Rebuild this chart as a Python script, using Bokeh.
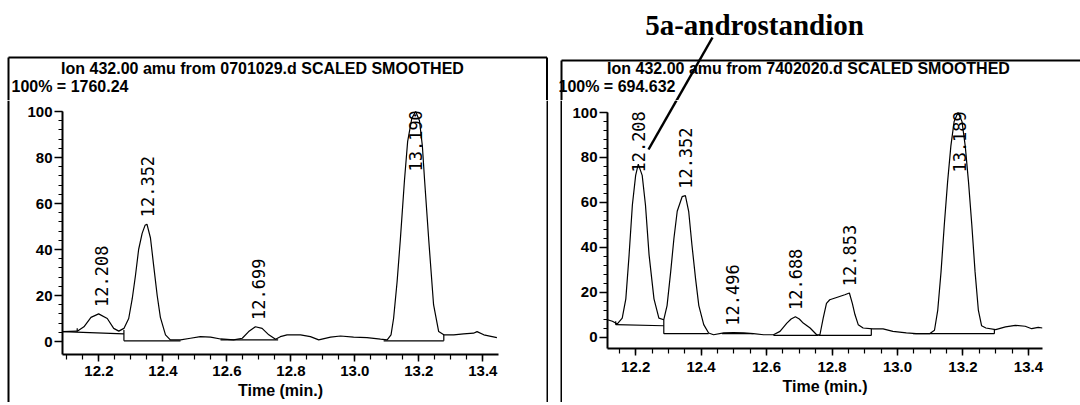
import math
from bokeh.plotting import figure
from bokeh.models import (Range1d, FixedTicker, LabelSet, ColumnDataSource,
                          CustomJSTickFormatter)
from bokeh.layouts import row, column
from bokeh.embed import file_html
from bokeh.resources import INLINE
from bokeh.core.properties import value

# ------------------------------------------------------------------ data
LEFT_TITLE = "Ion 432.00 amu from 0701029.d SCALED SMOOTHED"
LEFT_SCALE = "100% = 1760.24"
RIGHT_TITLE = "Ion 432.00 amu from 7402020.d SCALED SMOOTHED"
RIGHT_SCALE = "100% = 694.632"
ANNOTATION = "5a-androstandion"
X_LABEL = "Time (min.)"
X_TICKS = [12.2, 12.4, 12.6, 12.8, 13.0, 13.2, 13.4]
Y_TICKS = [0, 20, 40, 60, 80, 100]

LEFT_T = [12.086, 12.132, 12.153, 12.175, 12.199, 12.226, 12.246, 12.262, 12.278, 12.293,
          12.304, 12.314, 12.324, 12.335, 12.344, 12.350, 12.361, 12.371, 12.382, 12.392,
          12.408, 12.423, 12.455, 12.486, 12.517, 12.549, 12.580, 12.621, 12.648, 12.668,
          12.689, 12.710, 12.731, 12.752, 12.767, 12.788, 12.830, 12.861, 12.887, 12.924,
          12.955, 12.996, 13.038, 13.080, 13.101, 13.113, 13.121, 13.132, 13.142, 13.155,
          13.165, 13.178, 13.190, 13.202, 13.211, 13.218, 13.231, 13.246, 13.262, 13.278,
          13.309, 13.340, 13.371, 13.382, 13.403, 13.444]
LEFT_Y = [4.3, 4.5, 6.4, 10.5, 12.0, 10.0, 5.7, 4.5, 5.7, 10.0,
          18.6, 28.6, 40.0, 47.0, 50.5, 51.0, 45.0, 33.0, 20.0, 10.5,
          2.9, 0.7, 0.7, 1.4, 2.1, 1.9, 1.1, 0.7, 1.4, 4.3,
          6.4, 5.7, 2.9, 1.0, 2.1, 2.9, 2.9, 2.1, 0.7, 1.9,
          2.4, 1.9, 1.7, 1.0, 0.7, 2.9, 10.0, 26.0, 44.0, 70.0,
          87.0, 97.0, 100.0, 96.0, 85.0, 70.0, 44.0, 16.0, 4.3, 2.9,
          2.9, 3.3, 3.6, 4.3, 2.9, 1.7]
LEFT_PEAK_T = [12.208, 12.352, 12.699, 13.190]
LEFT_PEAK_H = [12.0, 51.0, 6.4, 100.0]
LEFT_BASE_X0 = [12.086, 12.278, 12.278, 12.580, 13.090, 13.278, 12.132]
LEFT_BASE_Y0 = [4.3, 0.3, 0.3, 0.7, 0.3, 0.3, 4.3]
LEFT_BASE_X1 = [12.278, 12.278, 12.455, 12.760, 13.278, 13.278, 12.132]
LEFT_BASE_Y1 = [3.3, 5.0, 0.3, 0.7, 0.3, 2.9, 5.8]

RIGHT_T = [12.114, 12.129, 12.144, 12.159, 12.170, 12.180, 12.190, 12.200, 12.208, 12.220,
           12.230, 12.241, 12.256, 12.271, 12.286, 12.296, 12.307, 12.317, 12.327, 12.342,
           12.352, 12.362, 12.372, 12.383, 12.393, 12.408, 12.423, 12.438, 12.469, 12.499,
           12.530, 12.560, 12.591, 12.621, 12.641, 12.662, 12.675, 12.688, 12.700, 12.712,
           12.733, 12.753, 12.763, 12.773, 12.783, 12.793, 12.814, 12.839, 12.853, 12.862,
           12.870, 12.880, 12.895, 12.925, 12.956, 12.986, 13.027, 13.057, 13.098, 13.113,
           13.123, 13.133, 13.143, 13.153, 13.163, 13.173, 13.185, 13.197, 13.207, 13.217,
           13.227, 13.237, 13.247, 13.257, 13.270, 13.300, 13.330, 13.360, 13.390, 13.410,
           13.430, 13.443]
RIGHT_Y = [7.7, 7.0, 5.8, 8.4, 17.0, 36.6, 58.8, 72.0, 77.0, 72.0,
           58.8, 36.6, 17.0, 8.4, 7.7, 14.0, 29.0, 44.0, 56.0, 62.5,
           63.0, 56.0, 41.0, 26.0, 14.0, 5.5, 1.8, 1.0, 1.8, 2.0,
           1.8, 1.5, 1.0, 1.0, 2.5, 6.2, 8.0, 9.0, 8.0, 6.2,
           4.0, 1.0, 1.0, 8.4, 15.0, 16.6, 17.6, 18.8, 19.6, 15.0,
           10.0, 5.5, 4.0, 3.6, 3.6, 2.5, 1.8, 1.5, 1.5, 3.0,
           12.0, 29.0, 50.0, 69.0, 85.0, 96.0, 100.0, 96.0, 85.0, 69.0,
           50.0, 29.0, 12.0, 5.0, 4.0, 3.3, 4.5, 5.2, 4.8, 3.7,
           4.3, 4.0]
RIGHT_PEAK_T = [12.208, 12.352, 12.496, 12.688, 12.853, 13.189]
RIGHT_PEAK_H = [77.0, 63.0, 2.0, 9.0, 19.6, 100.0]
RIGHT_BASE_X0 = [12.139, 12.286, 12.286, 12.464, 12.621, 12.758, 12.920, 13.047, 13.296, 12.139]
RIGHT_BASE_Y0 = [5.5, 1.5, 1.5, 1.5, 0.7, 0.7, 0.7, 1.5, 1.5, 5.5]
RIGHT_BASE_X1 = [12.286, 12.286, 12.423, 12.560, 12.758, 12.920, 12.920, 13.296, 13.296, 12.139]
RIGHT_BASE_Y1 = [5.0, 7.7, 1.5, 1.5, 0.7, 0.7, 3.6, 1.5, 3.3, 7.0]

# ------------------------------------------------------------------ layout (page px)
W = 1080
HEADER_H = 100
FOOTER_H = 3
ROW_H = 405 - HEADER_H - FOOTER_H
SANS = "Liberation Sans"


def pixel_fig(x0, x1, y0, y1):
    """A figure whose frame fills it, with data units equal to page pixels."""
    p = figure(width=x1 - x0, height=y1 - y0, x_range=Range1d(x0, x1),
               y_range=Range1d(y1, y0), x_axis_type=None, y_axis_type=None,
               output_backend="svg", toolbar_location=None, title=None,
               min_border=0, min_border_left=0, min_border_right=0,
               min_border_top=0, min_border_bottom=0, frame_align=False)
    p.outline_line_color = None
    return p


def chart(px0, px1, fl, fr, fb, xr, v100, v0, t, y, pk_t, pk_h, bx0, by0, bx1, by1,
          tick_standoff, label_standoff):
    ppu = (v0 - v100) / 100.0
    ytop = 100 + (v100 - HEADER_H) / ppu
    ybot = -(fb - v0) / ppu
    p = figure(width=px1 - px0, height=ROW_H, x_range=Range1d(*xr),
               y_range=Range1d(ybot, ytop), output_backend="svg",
               toolbar_location=None, title=None, frame_align=False,
               min_border_left=fl - px0, min_border_right=px1 - fr,
               min_border_top=0, min_border_bottom=HEADER_H + ROW_H - fb)
    p.outline_line_color = None
    p.xgrid.visible = False
    p.ygrid.visible = False

    minor_x = [round(12.05 + 0.05 * i, 2) for i in range(30)]
    minor_x = [m for m in minor_x if xr[0] <= m <= xr[1]]
    p.xaxis.ticker = FixedTicker(ticks=X_TICKS, minor_ticks=minor_x)
    p.xaxis.formatter = CustomJSTickFormatter(code="return tick.toFixed(1)")
    p.yaxis.ticker = FixedTicker(ticks=Y_TICKS, minor_ticks=list(range(0, 101, 4)))
    p.yaxis.bounds = (ybot, 100)
    for ax in (p.xaxis[0], p.yaxis[0]):
        ax.axis_line_width = 2
        ax.axis_line_color = "black"
        ax.major_tick_line_color = "black"
        ax.minor_tick_line_color = "black"
        ax.major_tick_line_width = 1.5
        ax.minor_tick_line_width = 1.2
        ax.major_tick_in = 0
        ax.minor_tick_in = 0
        ax.major_label_text_font = SANS
        ax.major_label_text_font_style = "bold"
        ax.major_label_text_font_size = "15px"
        ax.major_label_text_color = "black"
    p.xaxis.major_tick_out = 7
    p.xaxis.minor_tick_out = 5
    p.xaxis.major_label_standoff = tick_standoff
    p.xaxis.axis_label = X_LABEL
    p.xaxis.axis_label_standoff = label_standoff
    p.xaxis.axis_label_text_font = SANS
    p.xaxis.axis_label_text_font_style = "bold"
    p.xaxis.axis_label_text_font_size = "16px"
    p.xaxis.axis_label_text_color = "black"
    p.yaxis.major_tick_out = 8
    p.yaxis.minor_tick_out = 4
    p.yaxis.major_label_standoff = 2

    p.line(t, y, line_color="black", line_width=1.2)
    p.segment(x0=bx0, y0=by0, x1=bx1, y1=by1, line_color="black", line_width=1.2)

    lab_len = 6 * 0.6 * 17 / ppu
    ly = [min(h + 3, 100.5 - lab_len) for h in pk_h]
    src = ColumnDataSource(dict(x=pk_t, y=ly, text=["%.3f" % v for v in pk_t]))
    p.add_layout(LabelSet(x="x", y="y", text="text", source=src, angle=math.pi / 2,
                          text_align="left", text_baseline="middle",
                          text_font=value("DejaVu Sans Mono"), text_font_size=value("17px"),
                          text_color="black"))

    def d(px, py):
        xx = xr[0] + (px - fl) * (xr[1] - xr[0]) / (fr - fl)
        yy = 100 - (py - v100) / ppu
        return xx, yy
    return p, d


# ---------------- header (titles, annotation, box tops)
header = pixel_fig(0, W, 0, HEADER_H)
header.text(x=[262, 808], y=[68, 68], text=[LEFT_TITLE, RIGHT_TITLE],
            text_font=value(SANS), text_font_style="bold", text_font_size=value("16px"),
            text_align="center", text_baseline="middle", text_color="black")
header.text(x=[11, 558], y=[86, 86], text=[LEFT_SCALE, RIGHT_SCALE],
            text_font=value(SANS), text_font_style="bold", text_font_size=value("16px"),
            text_align="left", text_baseline="middle", text_color="black")
header.text(x=[754], y=[24], text=[ANNOTATION], text_font=value("Liberation Serif"),
            text_font_style="bold", text_font_size=value("29px"),
            text_align="center", text_baseline="middle", text_color="black")
header.segment(x0=[8, 8, 546.5, 561, 561], y0=[57, 57, 57, 60, 60],
               x1=[546.5, 8, 546.5, W, 561], y1=[57, HEADER_H, HEADER_H, 60, HEADER_H],
               line_color="black", line_width=2)
LEAD_TOP = (712, 37)
LEAD_END = (648, 149)
lead_x_mid = LEAD_TOP[0] + (LEAD_END[0] - LEAD_TOP[0]) * (HEADER_H - LEAD_TOP[1]) / (LEAD_END[1] - LEAD_TOP[1])
header.segment(x0=[LEAD_TOP[0]], y0=[LEAD_TOP[1]], x1=[lead_x_mid], y1=[HEADER_H],
               line_color="black", line_width=2.5)

# ---------------- chart row
edge = pixel_fig(0, 10, HEADER_H, HEADER_H + ROW_H)
edge.segment(x0=[8], y0=[HEADER_H], x1=[8], y1=[HEADER_H + ROW_H], line_color="black", line_width=2)

left, _ = chart(10, 546, 62, 498, 354, (12.086, 13.449), 111, 341,
                LEFT_T, LEFT_Y, LEFT_PEAK_T, LEFT_PEAK_H,
                LEFT_BASE_X0, LEFT_BASE_Y0, LEFT_BASE_X1, LEFT_BASE_Y1, 4, 3)

mid = pixel_fig(546, 562, HEADER_H, HEADER_H + ROW_H)
mid.segment(x0=[546.5, 561], y0=[HEADER_H, HEADER_H], x1=[546.5, 561],
            y1=[HEADER_H + ROW_H, HEADER_H + ROW_H], line_color="black", line_width=2)

right, rd = chart(562, W, 607, 1042, 348, (12.114, 13.443), 112, 336.5,
                  RIGHT_T, RIGHT_Y, RIGHT_PEAK_T, RIGHT_PEAK_H,
                  RIGHT_BASE_X0, RIGHT_BASE_Y0, RIGHT_BASE_X1, RIGHT_BASE_Y1, 6, 3)
a0 = rd(lead_x_mid, HEADER_H)
a1 = rd(*LEAD_END)
right.segment(x0=[a0[0]], y0=[a0[1]], x1=[a1[0]], y1=[a1[1]], line_color="black", line_width=2.5)

# ---------------- footer (box bottoms)
footer = pixel_fig(0, W, 405 - FOOTER_H, 405)
footer.segment(x0=[8, 561], y0=[403.5, 403.5], x1=[546.5, W], y1=[403.5, 403.5],
               line_color=["#9a9a9a", "black"], line_width=[1, 2])

layout = column(header, row(edge, left, mid, right), footer)
open("out.html", "w").write(file_html(layout, INLINE))
